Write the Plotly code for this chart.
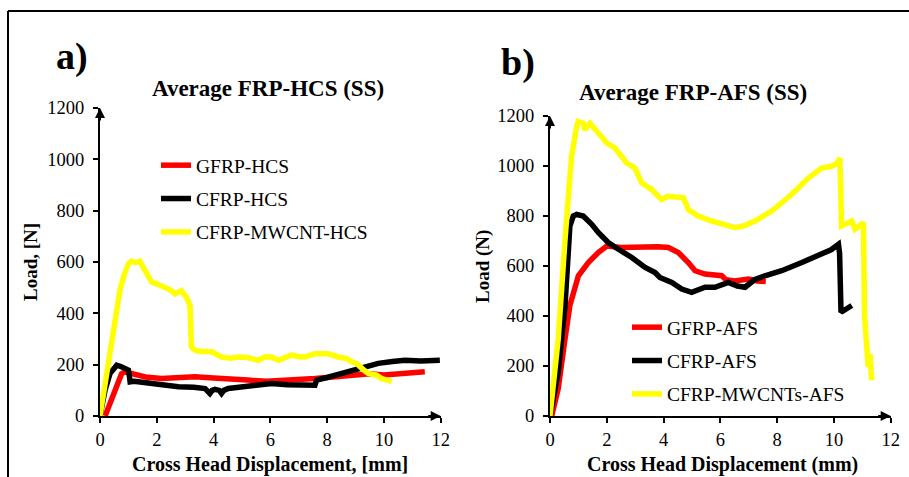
import plotly.graph_objects as go

W, H = 909, 477

# ---------- Panel a) Average FRP-HCS (SS) ----------
a_gfrp_x = [0.18, 0.45, 0.76, 0.88, 1.05, 1.23, 1.6, 2.17, 2.8, 3.35, 4.0, 4.52, 5.2, 5.87, 6.5, 7.0, 7.57, 8.2, 8.86, 9.5, 10.0, 10.6, 11.0, 11.44]
a_gfrp_y = [0, 75, 165, 172, 168, 159, 152, 146, 148, 153, 148, 146, 140, 135, 138, 142, 146, 152, 160, 165, 160, 166, 169, 172]

a_cfrp_x = [0.0, 0.18, 0.35, 0.47, 0.59, 0.75, 0.88, 1.0, 1.03, 1.06, 1.2, 1.58, 2.2, 2.76, 3.3, 3.7, 3.87, 3.95, 4.05, 4.2, 4.28, 4.36, 4.52, 5.11, 5.5, 6.04, 6.6, 7.2, 7.57, 7.6, 7.63, 8.0, 8.51, 9.1, 9.8, 10.3, 10.74, 11.3, 11.97]
a_cfrp_y = [0, 101, 165, 185, 198, 192, 185, 179, 160, 133, 135, 129, 120, 114, 112, 107, 88, 100, 104, 100, 88, 100, 107, 114, 120, 127, 122, 122, 120, 130, 140, 150, 166, 185, 205, 212, 217, 214, 217]

a_mwcnt_x = [0.0, 0.2, 0.41, 0.55, 0.70, 0.85, 1.0, 1.1, 1.25, 1.4, 1.5, 1.64, 1.82, 2.0, 2.29, 2.5, 2.64, 2.8, 2.87, 2.95, 3.05, 3.17, 3.19, 3.22, 3.35, 3.5, 3.93, 4.28, 4.6, 4.87, 5.2, 5.57, 5.81, 6.04, 6.28, 6.5, 6.75, 7.0, 7.22, 7.57, 8.04, 8.39, 8.69, 8.86, 9.04, 9.27, 9.45, 9.74, 9.92, 10.27]
a_mwcnt_y = [0, 150, 295, 400, 489, 550, 593, 603, 598, 603, 585, 554, 522, 515, 502, 490, 476, 485, 489, 475, 463, 431, 300, 269, 256, 252, 250, 230, 225, 230, 228, 217, 230, 230, 217, 228, 237, 232, 230, 243, 243, 230, 224, 211, 205, 181, 166, 159, 146, 135]

# ---------- Panel b) Average FRP-AFS (SS) ----------
b_gfrp_x = [0.06, 0.29, 0.53, 0.70, 1.0, 1.35, 1.70, 2.0, 2.52, 3.0, 3.35, 3.8, 4.17, 4.52, 4.87, 5.11, 5.46, 5.81, 6.05, 6.2, 6.5, 6.99, 7.3, 7.6]
b_gfrp_y = [0, 110, 309, 442, 561, 614, 654, 680, 674, 676, 680, 677, 674, 654, 614, 581, 568, 566, 561, 545, 540, 548, 540, 538]

b_cfrp_x = [0.0, 0.29, 0.53, 0.70, 0.82, 0.94, 1.17, 1.47, 1.70, 2.05, 2.41, 2.88, 3.35, 3.70, 3.87, 4.29, 4.64, 4.99, 5.46, 5.81, 6.28, 6.6, 6.87, 7.2, 7.57, 8.16, 8.87, 9.2, 9.57, 9.9, 10.16, 10.2, 10.25, 10.4, 10.63]
b_cfrp_y = [0, 176, 442, 760, 800, 806, 800, 767, 734, 694, 667, 634, 594, 574, 554, 534, 508, 495, 515, 515, 534, 520, 515, 545, 561, 581, 614, 630, 647, 665, 687, 650, 415, 428, 442]

b_mwcnt_x = [0.0, 0.29, 0.53, 0.76, 0.94, 1.0, 1.17, 1.23, 1.41, 1.70, 2.0, 2.29, 2.52, 2.70, 2.99, 3.23, 3.58, 3.93, 4.17, 4.52, 4.70, 4.87, 5.22, 5.69, 6.05, 6.52, 6.81, 7.22, 7.81, 8.51, 9.1, 9.57, 9.92, 10.1, 10.21, 10.24, 10.27, 10.63, 10.74, 11.04, 11.08, 11.15, 11.21, 11.27, 11.33]
b_mwcnt_y = [0, 309, 707, 1039, 1158, 1178, 1171, 1145, 1171, 1131, 1092, 1072, 1039, 1012, 992, 932, 906, 866, 879, 873, 873, 826, 800, 780, 767, 753, 760, 780, 820, 886, 952, 992, 999, 1010, 1032, 880, 760, 780, 747, 773, 400, 289, 196, 249, 143]

x_ticks = [0, 2, 4, 6, 8, 10, 12]
y_ticks = [0, 200, 400, 600, 800, 1000, 1200]

RED, BLACK, YEL = "#FF0000", "#000000", "#FFFF00"
SERIF = "Liberation Serif"

fig = go.Figure()

def add(x, y, name, color, xa, ya, leg):
    fig.add_trace(go.Scatter(x=x, y=y, mode="lines", name=name,
                             line=dict(color=color, width=5.5),
                             xaxis=xa, yaxis=ya, legend=leg,
                             legendgroup=name))

add(a_gfrp_x, a_gfrp_y, "GFRP-HCS", RED, "x", "y", "legend")
add(a_cfrp_x, a_cfrp_y, "CFRP-HCS", BLACK, "x", "y", "legend")
add(a_mwcnt_x, a_mwcnt_y, "CFRP-MWCNT-HCS", YEL, "x", "y", "legend")
add(b_gfrp_x, b_gfrp_y, "GFRP-AFS", RED, "x2", "y2", "legend2")
add(b_cfrp_x, b_cfrp_y, "CFRP-AFS", BLACK, "x2", "y2", "legend2")
add(b_mwcnt_x, b_mwcnt_y, "CFRP-MWCNTs-AFS", YEL, "x2", "y2", "legend2")

axis_common = dict(showgrid=False, zeroline=False, showline=True, linecolor="black",
                   linewidth=2, ticks="outside", ticklen=5, tickwidth=2, tickcolor="black",
                   automargin=False,
                   tickfont=dict(family=SERIF, size=18.5, color="black"))

fig.update_layout(
    template="none",
    width=W, height=H,
    autosize=False,
    font=dict(family=SERIF, color="black"),
    margin=dict(l=0, r=0, t=0, b=0, pad=0, autoexpand=False),
    paper_bgcolor="white", plot_bgcolor="white",
    xaxis=dict(domain=[100/W, 440.7/W], range=[0, 12], tickvals=x_ticks,
               anchor="y", ticklabelstandoff=1, **axis_common),
    yaxis=dict(domain=[1-416/H, 1-108/H], range=[0, 1200], tickvals=y_ticks,
               anchor="x", ticklabelstandoff=5, **axis_common),
    xaxis2=dict(domain=[550/W, 890.7/W], range=[0, 12], tickvals=x_ticks,
                anchor="y2", ticklabelstandoff=1, **axis_common),
    yaxis2=dict(domain=[1-416/H, 1-116/H], range=[0, 1200], tickvals=y_ticks,
                anchor="x2", ticklabelstandoff=5, **axis_common),
    legend=dict(x=156/W, y=1-146/H, xanchor="left", yanchor="top",
                font=dict(family=SERIF, size=19.5, color="black"),
                bgcolor="rgba(0,0,0,0)", tracegroupgap=5, itemwidth=30),
    legend2=dict(x=627/W, y=1-308/H, xanchor="left", yanchor="top",
                 font=dict(family=SERIF, size=19.5, color="black"),
                 bgcolor="rgba(0,0,0,0)", tracegroupgap=5, itemwidth=30),
    showlegend=True,
)

ann = []
def txt(x, y, s, size, bold=True, angle=0):
    ann.append(dict(x=x/W, y=1-y/H, xref="paper", yref="paper", text=f"<b>{s}</b>" if bold else s,
                    showarrow=False, textangle=angle, xanchor="center", yanchor="middle",
                    font=dict(family=SERIF, size=size, color="black")))

txt(72, 57, "a)", 38)
txt(518, 62, "b)", 38)
txt(268, 88, "Average FRP-HCS (SS)", 23)
txt(693, 93, "Average FRP-AFS (SS)", 23)
txt(30, 262, "Load, [N]", 19, angle=-90)
txt(483, 267, "Load (N)", 19, angle=-90)
txt(270, 464, "Cross Head Displacement, [mm]", 20)
txt(722, 464, "Cross Head Displacement (mm)", 20)

# axis arrowheads
for xr, yr in (("x", "y"), ("x2", "y2")):
    ann.append(dict(x=12, y=0, xref=xr, yref=yr, ax=-14, ay=0, text="", showarrow=True,
                    arrowhead=2, arrowsize=1, arrowwidth=2, arrowcolor="black", standoff=0))
    ann.append(dict(x=0, y=1200, xref=xr, yref=yr, ax=0, ay=14, text="", showarrow=True,
                    arrowhead=2, arrowsize=1, arrowwidth=2, arrowcolor="black", standoff=0))

fig.update_layout(annotations=ann)

# outer frame (top and left edges)
fig.add_shape(type="line", xref="paper", yref="paper", x0=8/W, x1=1, y0=1-11/H, y1=1-11/H,
              line=dict(color="black", width=2))
fig.add_shape(type="line", xref="paper", yref="paper", x0=8/W, x1=8/W, y0=0, y1=1-11/H,
              line=dict(color="black", width=2))

fig.write_html("out.html", config={"displayModeBar": False},
               post_script="document.body.style.margin='0';document.body.style.overflow='hidden';")
